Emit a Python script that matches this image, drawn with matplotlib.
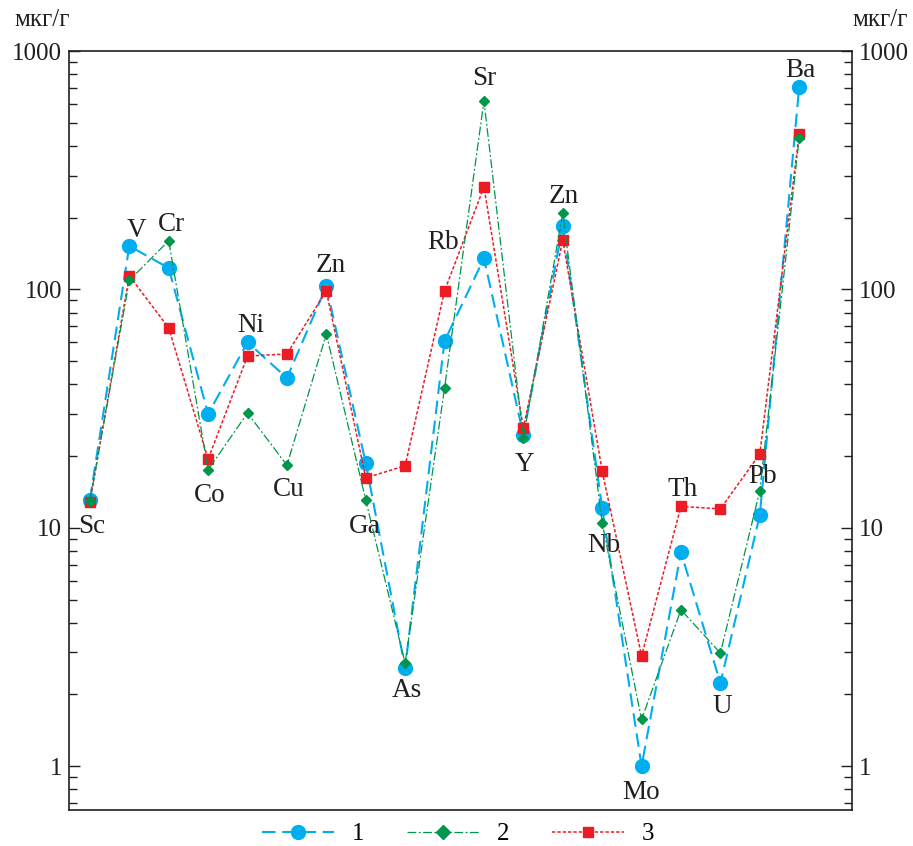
import matplotlib
matplotlib.use("Agg")
import matplotlib.pyplot as plt
from matplotlib.ticker import LogLocator, NullFormatter, FixedLocator, FixedFormatter

plt.rcParams['font.family'] = ['Liberation Serif', 'DejaVu Serif']

elements = ['Sc', 'V', 'Cr', 'Co', 'Ni', 'Cu', 'Zn', 'Ga', 'As', 'Rb',
            'Sr', 'Y', 'Zn', 'Nb', 'Mo', 'Th', 'U', 'Pb', 'Ba']
s1 = [13.1, 152, 123, 30, 60, 42.5, 103, 18.7, 2.58, 60.7,
      135, 24.5, 184, 12.1, 1.0, 7.9, 2.23, 11.3, 707]
s2 = [12.9, 109, 160, 17.5, 30.3, 18.3, 65, 13.1, 2.7, 38.6,
      618, 23.8, 209, 10.5, 1.57, 4.53, 2.98, 14.3, 432]
s3 = [12.8, 114, 69, 19.4, 52.5, 53.6, 98.5, 16.2, 18.2, 98.5,
      269, 26.2, 161, 17.3, 2.9, 12.3, 12.0, 20.4, 449]
series_names = ['1', '2', '3']
unit = 'мкг/г'

# label placement: anchor ('max' above / 'min' below) and offset in points
lab_style = [('min', 1, -15), ('max', 5, 13), ('max', 2, 14), ('min', 1, -16),
             ('max', 2, 14), ('min', 1, -15), ('max', 3, 17), ('min', -1, -17),
             ('min', 1, -14), ('max', -1, 37), ('max', 0, 18), ('min', 1, -17),
             ('max', 1, 14), ('min', 1, -14), ('min', 0, -17), ('max', 1, 14),
             ('min', 1, -15), ('max', 2, -14), ('max', 1, 14)]

fig = plt.figure(figsize=(9.13, 8.46), dpi=100)
ax = fig.add_axes([69/913, 1-810/846, (852-69)/913, (810-51)/846])

x = list(range(len(elements)))
blue, green, red = '#00aeef', '#00964b', '#ed1c24'

l1, = ax.plot(x, s1, color=blue, lw=1.5, dashes=(6.5, 3.2), marker='o', ms=10,
              mec=blue, mfc=blue, zorder=2)
l3, = ax.plot(x, s3, color=red, lw=1.1, dashes=(2.2, 1.3), marker='s', ms=6.5,
              mec=red, mfc=red, zorder=3)
l2, = ax.plot(x, s2, color=green, lw=0.9, dashes=(7, 2, 1.5, 2), marker='D', ms=5.3,
              mec=green, mfc=green, zorder=4)

for i, el in enumerate(elements):
    kind, dx, dy = lab_style[i]
    vals = [s1[i], s2[i], s3[i]]
    y = max(vals) if kind == 'max' else min(vals)
    ax.annotate(el, (i, y), xytext=(dx, dy), textcoords='offset points',
                ha='center', va='center_baseline', fontsize=19.5, color='#231f20')

ax.set_yscale('log')
ax.set_ylim(0.655, 1000)
ax.set_xlim(-0.53, 19.34)
ax.set_xticks([])
ax.yaxis.set_major_locator(FixedLocator([1, 10, 100, 1000]))
ax.yaxis.set_major_formatter(FixedFormatter(['1', '10', '100', '1000']))
ax.yaxis.set_minor_locator(LogLocator(base=10, subs=range(2, 10)))
ax.yaxis.set_minor_formatter(NullFormatter())
ax.tick_params(axis='y', which='both', direction='in', left=True, right=True,
               labelleft=True, labelright=True, labelsize=18, colors='#231f20', pad=5)
ax.tick_params(axis='y', which='major', length=8, width=1.0)
ax.tick_params(axis='y', which='minor', length=6, width=1.0)
for sp in ax.spines.values():
    sp.set_linewidth(1.2)
    sp.set_color('#231f20')

fig.text(42/913, 1-20/846, unit, ha='center', va='center', fontsize=18, color='#231f20')
fig.text(880/913, 1-20/846, unit, ha='center', va='center', fontsize=18, color='#231f20')

leg = fig.legend([l1, l2, l3], series_names, loc='center', bbox_to_anchor=(458/913, 1-834/846),
                 ncol=3, frameon=False, fontsize=18, handlelength=2.9, handletextpad=0.7,
                 columnspacing=1.7, borderpad=0)
leg.legend_handles[1].set_markersize(7)

fig.savefig('out.png', dpi=100)
